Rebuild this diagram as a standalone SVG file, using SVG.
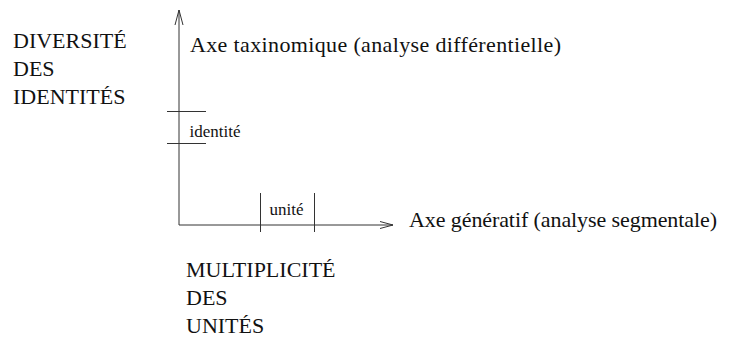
<svg xmlns="http://www.w3.org/2000/svg" width="731" height="338" viewBox="0 0 731 338">
<style>
.ln{stroke:#333;stroke-width:1;fill:none}
.big{font-size:22px;fill:#111}
.sm{font-size:17px;fill:#111}
</style>
<rect width="731" height="338" fill="#fff"/>
<g id="connectors">
<path class="ln" d="M179,225 V10 M175,25 L179,10 L183,25"/>
<path class="ln" d="M179,225 H393 M380,221.5 L393,225 L380,228.5"/>
</g>
<g font-family="'Liberation Serif', 'Times New Roman', serif">
<g id="y-axis-label">
<text class="big" x="13" y="48">DIVERSITÉ</text>
<text class="big" x="13" y="76">DES</text>
<text class="big" x="13" y="104">IDENTITÉS</text>
</g>
<g id="y-axis-title">
<text class="big" x="190" y="52" textLength="371" lengthAdjust="spacing">Axe taxinomique (analyse différentielle)</text>
</g>
<g id="identite">
<path class="ln" d="M167,111.5 H206 M167,143.5 H206"/>
<text class="sm" x="189.5" y="137">identité</text>
</g>
<g id="unite">
<path class="ln" d="M260.5,193 V232 M314.5,193 V232"/>
<text class="sm" x="269.5" y="215">unité</text>
</g>
<g id="x-axis-title">
<text class="big" x="409" y="227" textLength="308" lengthAdjust="spacing">Axe génératif (analyse segmentale)</text>
</g>
<g id="x-axis-label">
<text class="big" x="186" y="277">MULTIPLICITÉ</text>
<text class="big" x="186" y="305">DES</text>
<text class="big" x="186" y="333">UNITÉS</text>
</g>
</g>
</svg>
